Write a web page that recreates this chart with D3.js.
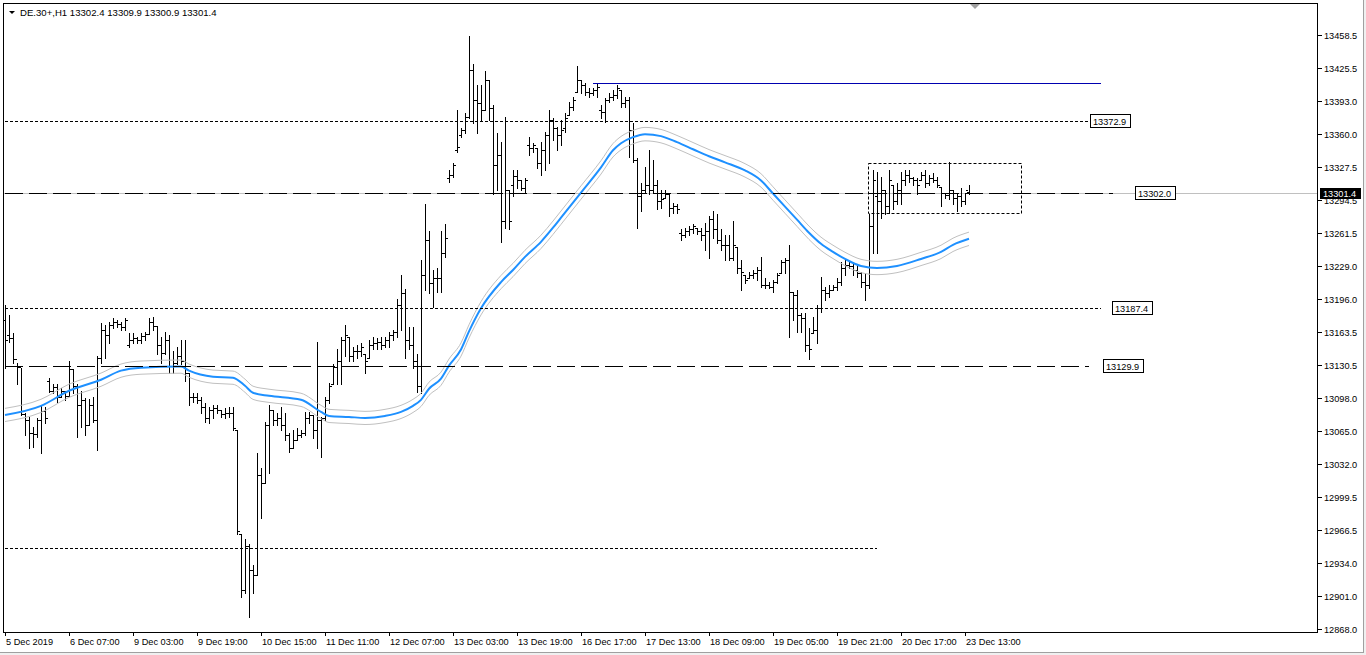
<!DOCTYPE html>
<html>
<head>
<meta charset="utf-8">
<title>DE.30+,H1</title>
<script src="https://cdn.jsdelivr.net/npm/d3@7"></script>
<style>
  html, body { margin: 0; padding: 0; background: #f0f0f0; }
  svg { display: block; font-family: "Liberation Sans", Arial, sans-serif; }
</style>
</head>
<body>
<svg id="chart" width="1366" height="655"></svg>
<script>

var symbol = "DE.30+,H1";
var lastQuote = [13302.4, 13309.9, 13300.9, 13301.4];

// hourly bars, oldest first (5 Dec 2019 .. 23 Dec 2019 14:00)
var opens = [13175,13160,13157,13137,13129,13082,13076,13063,13062,13076,13085,13115,13105,13109,13099,13105,13100,13127,13110,13091,
13096,13071,13091,13076,13138,13165,13160,13170,13173,13171,13168,13150,13155,13157,13155,13159,13161,13173,13169,13150,
13143,13155,13130,13133,13140,13135,13123,13099,13099,13096,13089,13078,13086,13088,13086,13082,13083,13083,13066,12963,
12907,12951,12927,12922,13021,13013,13071,13086,13076,13078,13071,13061,13048,13056,13061,13063,13078,13081,13066,13076,
13078,13096,13112,13129,13135,13155,13158,13140,13145,13145,13142,13138,13150,13152,13153,13150,13155,13160,13163,13190,
13202,13155,13150,13135,13110,13220,13255,13212,13217,13217,13242,13316,13319,13344,13359,13364,13377,13424,13394,13391,
13384,13414,13386,13329,13339,13274,13304,13309,13318,13314,13306,13349,13346,13346,13331,13344,13359,13374,13366,13359,
13366,13379,13387,13402,13414,13409,13402,13401,13404,13384,13382,13394,13397,13399,13404,13391,13394,13364,13334,13299,
13304,13309,13304,13309,13294,13297,13301,13287,13289,13262,13260,13264,13266,13267,13264,13260,13264,13276,13266,13255,
13250,13250,13237,13248,13227,13220,13217,13220,13222,13225,13210,13210,13208,13213,13222,13233,13235,13203,13200,13180,
13177,13150,13162,13165,13187,13205,13202,13205,13208,13213,13227,13230,13229,13225,13222,13213,13210,13269,13299,13294,
13304,13289,13309,13294,13304,13314,13319,13316,13314,13314,13319,13311,13316,13314,13307,13302,13300,13304,13297,13299,
13294,13302.4];
var highs = [13190,13180,13162,13133,13128,13083,13079,13069,13078,13091,13089,13118,13112,13112,13108,13105,13135,13127,13112,13105,
13098,13097,13099,13140,13172,13170,13173,13177,13175,13173,13177,13162,13162,13158,13162,13163,13177,13178,13169,13158,
13163,13160,13145,13148,13155,13155,13123,13103,13103,13099,13093,13089,13091,13091,13086,13088,13089,13089,13066,12963,
12958,12953,12932,13043,13028,13074,13091,13086,13083,13089,13083,13063,13066,13068,13066,13084,13084,13081,13153,13079,
13099,13113,13132,13147,13158,13170,13158,13148,13150,13152,13142,13155,13158,13157,13158,13158,13163,13165,13196,13220,
13206,13168,13168,13142,13235,13291,13264,13225,13227,13264,13271,13324,13331,13384,13366,13381,13458,13430,13409,13409,
13423,13414,13389,13361,13352,13377,13304,13324,13324,13314,13316,13357,13351,13346,13352,13362,13384,13376,13367,13374,
13381,13392,13397,13428,13414,13411,13406,13406,13411,13389,13396,13401,13404,13409,13404,13397,13397,13371,13336,13311,
13327,13344,13334,13314,13304,13304,13301,13292,13291,13266,13267,13269,13271,13267,13267,13272,13279,13284,13281,13266,
13260,13260,13274,13248,13235,13220,13223,13225,13228,13238,13217,13213,13215,13222,13235,13237,13250,13203,13205,13182,
13182,13167,13178,13190,13218,13208,13210,13210,13217,13233,13235,13233,13232,13230,13223,13222,13281,13324,13322,13317,
13304,13324,13309,13311,13322,13324,13324,13317,13316,13322,13324,13319,13321,13317,13307,13302,13332,13304,13302,13306,
13302,13309.9];
var lows = [13128,13153,13133,13112,13081,13061,13048,13049,13059,13043,13073,13104,13103,13094,13099,13096,13100,13103,13059,13069,
13061,13071,13074,13046,13133,13138,13152,13167,13168,13165,13165,13148,13152,13152,13152,13155,13161,13165,13142,13133,
13142,13123,13123,13132,13132,13115,13091,13094,13093,13083,13074,13073,13078,13083,13079,13078,13079,13066,12963,12900,
12904,12880,12904,12922,12979,13013,13023,13071,13071,13066,13056,13044,13048,13056,13059,13061,13073,13058,13048,13039,
13076,13093,13112,13112,13112,13140,13135,13135,13138,13140,13123,13138,13147,13147,13147,13148,13148,13155,13158,13165,
13138,13147,13128,13104,13103,13205,13202,13188,13203,13203,13238,13312,13317,13342,13357,13361,13376,13371,13361,13374,
13384,13374,13301,13304,13253,13267,13266,13299,13306,13304,13302,13339,13342,13326,13319,13324,13331,13354,13344,13349,
13362,13379,13384,13402,13401,13399,13397,13399,13397,13376,13372,13392,13394,13396,13387,13387,13337,13332,13267,13284,
13302,13301,13302,13286,13287,13297,13279,13282,13282,13255,13258,13260,13262,13261,13255,13245,13237,13257,13252,13245,
13235,13235,13235,13222,13205,13212,13217,13217,13215,13208,13207,13207,13203,13212,13222,13222,13158,13175,13163,13163,
13145,13137,13162,13152,13183,13195,13198,13205,13205,13210,13220,13227,13220,13218,13208,13195,13207,13242,13242,13277,
13281,13282,13286,13291,13291,13309,13312,13309,13301,13314,13307,13309,13312,13307,13289,13297,13296,13291,13284,13289,
13291,13300.9];
var closes = [13155,13157,13137,13129,13082,13076,13063,13062,13076,13085,13078,13105,13109,13099,13105,13100,13127,13110,13091,13096,
13071,13091,13076,13138,13165,13160,13170,13173,13171,13168,13175,13155,13157,13155,13159,13161,13173,13169,13150,13143,
13155,13130,13133,13140,13135,13123,13099,13099,13096,13089,13078,13086,13088,13086,13082,13083,13083,13068,12966,12907,
12951,12927,12922,13021,13013,13071,13086,13076,13078,13071,13061,13048,13056,13061,13063,13078,13081,13066,13076,13078,
13096,13110,13129,13135,13155,13160,13140,13145,13145,13148,13135,13150,13152,13153,13150,13155,13160,13163,13190,13202,
13155,13150,13135,13110,13220,13255,13212,13217,13217,13242,13257,13319,13329,13347,13364,13377,13424,13394,13391,13384,
13414,13386,13329,13339,13274,13304,13274,13318,13314,13306,13314,13346,13349,13331,13344,13359,13374,13366,13359,13364,
13376,13387,13394,13414,13409,13402,13401,13404,13407,13382,13394,13397,13399,13406,13391,13394,13364,13334,13299,13304,
13309,13304,13309,13294,13296,13301,13287,13289,13286,13260,13264,13266,13269,13264,13260,13264,13276,13266,13255,13250,
13250,13237,13250,13227,13223,13215,13220,13222,13225,13210,13210,13208,13213,13220,13233,13235,13203,13200,13180,13177,
13150,13147,13165,13187,13205,13202,13205,13208,13213,13227,13230,13229,13225,13222,13213,13210,13269,13314,13294,13304,
13289,13314,13294,13304,13314,13319,13316,13314,13309,13319,13311,13316,13314,13309,13302,13300,13304,13297,13299,13294,
13304,13301.4];

// moving average (bar index, price)
var maIndex = [0,9,16,24,29,34,44,46,52,57,60,62,66,74,79,81,86,90,95,99,
102,104,106,109,111,114,116,119,124,127,130,134,137,139,144,149,152,154,157,160,
164,168,172,176,180,185,189,192,195,198,201,204,207,210,214,218,223,229,234,237,241];
var maValue = [13081,13090,13105,13116,13125,13128,13129,13125,13119,13118,13110,13103,13100,13096,13084,13080,13079,13078,13080,13084,
13090,13096,13107,13117,13130,13146,13164,13187,13213,13225,13238,13253,13267,13277,13302,13327,13344,13351,13357,13360,
13358,13352,13345,13338,13332,13324,13314,13301,13288,13275,13262,13251,13243,13236,13229,13227,13229,13236,13243,13250,13256];
var envelopePct = 0.05;

var priceTicks = [13458.5,13425.5,13393.0,13360.0,13327.5,13294.5,13261.5,13229.0,13196.0,13163.5,
13130.5,13098.0,13065.0,13032.0,12999.5,12966.5,12934.0,12901.0,12868.0];
var timeLabels = ["5 Dec 2019","6 Dec 07:00","9 Dec 03:00","9 Dec 19:00","10 Dec 15:00","11 Dec 11:00",
"12 Dec 07:00","13 Dec 03:00","13 Dec 19:00","16 Dec 17:00","17 Dec 13:00","18 Dec 09:00",
"19 Dec 05:00","19 Dec 21:00","20 Dec 17:00","23 Dec 13:00"];
var barsPerLabel = 16;

// drawn objects
var dottedLevels = [13372.9, 13187.4, 12948.4];
var dashedLevels = [13302.0, 13129.9];
var resistance = 13410.8;
var rangeBox = [13331.3, 13281.6];

var svg = d3.select("#chart");

var x = d3.scaleLinear().domain([0, 328]).range([5, 5 + 4 * 328]);
var y = d3.scaleLinear().domain([12868.0, 13458.5]).range([629.3, 35]);
function X(i) { return Math.round(x(i)); }
function Y(v) { return Math.round(y(v)); }

// window
svg.append("rect").attr("width", 1363).attr("height", 652).attr("fill", "#fff");
svg.append("line").attr("x1", 1363.5).attr("x2", 1363.5).attr("y1", 0).attr("y2", 653).attr("stroke", "#a0a0a0");
svg.append("line").attr("x1", 0).attr("x2", 1364).attr("y1", 652.5).attr("y2", 652.5).attr("stroke", "#a0a0a0");

svg.append("defs").append("clipPath").attr("id", "plot")
	.append("rect").attr("x", 4).attr("y", 4).attr("width", 1313).attr("height", 628);

var g = svg.append("g").attr("clip-path", "url(#plot)");

// current price line
g.append("line")
	.attr("x1", 4).attr("x2", 1318)
	.attr("y1", Y(lastQuote[3]) + 0.5).attr("y2", Y(lastQuote[3]) + 0.5)
	.attr("stroke", "#c0c0c0");

// bars
var idx = d3.range(opens.length);
var bars = g.append("g").attr("fill", "#000");
bars.selectAll("rect.hl").data(idx).enter().append("rect")
	.attr("x", function(i){ return X(i); })
	.attr("y", function(i){ return Y(highs[i]); })
	.attr("width", 1)
	.attr("height", function(i){ return Y(lows[i]) - Y(highs[i]) + 1; });
bars.selectAll("rect.o").data(idx).enter().append("rect")
	.attr("x", function(i){ return X(i) - 2; })
	.attr("y", function(i){ return Y(opens[i]); })
	.attr("width", 2).attr("height", 1);
bars.selectAll("rect.c").data(idx).enter().append("rect")
	.attr("x", function(i){ return X(i) + 1; })
	.attr("y", function(i){ return Y(closes[i]); })
	.attr("width", 2).attr("height", 1);

// moving average + envelopes
var ma = maIndex.map(function(d, k){ return [d, maValue[k]]; });
function maLine(f) {
	return d3.line()
		.x(function(d){ return x(d[0]); })
		.y(function(d){ return y(d[1] * f); })
		.curve(d3.curveMonotoneX)(ma);
}
g.append("path").attr("d", maLine(1 + envelopePct / 100)).attr("fill", "none").attr("stroke", "#c0c0c0");
g.append("path").attr("d", maLine(1 - envelopePct / 100)).attr("fill", "none").attr("stroke", "#c0c0c0");
g.append("path").attr("d", maLine(1)).attr("fill", "none").attr("stroke", "#1e90ff").attr("stroke-width", 2);

// horizontal levels
var levelEnd = { 13372.9: 272, 13187.4: 274, 12948.4: 218, 13302.0: 277, 13129.9: 271 };
dottedLevels.forEach(function(v){
	g.append("line").attr("x1", 5).attr("x2", X(levelEnd[v]))
		.attr("y1", Y(v) + 0.5).attr("y2", Y(v) + 0.5)
		.attr("stroke", "#000").attr("stroke-dasharray", "3,2");
});
dashedLevels.forEach(function(v){
	g.append("line").attr("x1", 5).attr("x2", X(levelEnd[v]))
		.attr("y1", Y(v) + 0.5).attr("y2", Y(v) + 0.5)
		.attr("stroke", "#000").attr("stroke-dasharray", "18,6");
});
g.append("line").attr("x1", X(147)).attr("x2", X(274))
	.attr("y1", Y(resistance) + 0.5).attr("y2", Y(resistance) + 0.5)
	.attr("stroke", "#0000b0");
g.append("rect")
	.attr("x", Math.round(x(215.7)) + 0.5).attr("y", Y(rangeBox[0]) + 0.5)
	.attr("width", Math.round(x(254)) - Math.round(x(215.7)))
	.attr("height", Y(rangeBox[1]) - Y(rangeBox[0]))
	.attr("fill", "none").attr("stroke", "#000").attr("stroke-dasharray", "3,2");

// price labels on the levels
var labelAt = [[13372.9, 1090], [13302.0, 1135], [13187.4, 1112], [13129.9, 1103]];
labelAt.forEach(function(d){
	var yy = Y(d[0]);
	g.append("rect").attr("x", d[1] + 0.5).attr("y", yy - 6.5)
		.attr("width", 40).attr("height", 13).attr("fill", "#fff").attr("stroke", "#000");
	g.append("text").attr("x", d[1] + 3).attr("y", yy + 4)
		.attr("font-size", "9.2px").attr("fill", "#000").text(d[0].toFixed(1));
});

// frame
svg.append("rect").attr("x", 3.5).attr("y", 3.5).attr("width", 1314).attr("height", 629)
	.attr("fill", "none").attr("stroke", "#000");

// price axis
var pa = svg.append("g");
priceTicks.forEach(function(v){
	var yy = Y(v) + 0.5;
	pa.append("line").attr("x1", 1318).attr("x2", 1322).attr("y1", yy).attr("y2", yy).attr("stroke", "#000");
	pa.append("text").attr("x", 1324).attr("y", yy + 3.5).attr("font-size", "9.2px").attr("fill", "#000").text(v.toFixed(1));
});
var cy = Y(lastQuote[3]);
pa.append("rect").attr("x", 1320).attr("y", cy - 5).attr("width", 41).attr("height", 11).attr("fill", "#000");
pa.append("text").attr("x", 1323).attr("y", cy + 4).attr("font-size", "9.2px").attr("fill", "#fff").text(lastQuote[3].toFixed(1));

// time axis
var ta = svg.append("g");
timeLabels.forEach(function(t, k){
	var xx = X(k * barsPerLabel) + 0.5;
	ta.append("line").attr("x1", xx).attr("x2", xx).attr("y1", 632).attr("y2", 636).attr("stroke", "#000");
	ta.append("text").attr("x", xx + 0.5).attr("y", 645).attr("font-size", "9.2px").attr("fill", "#000").text(t);
});

// title
svg.append("path").attr("d", "M9,11 L15,11 L12,14 Z").attr("fill", "#000");
svg.append("text").attr("x", 20).attr("y", 16).attr("font-size", "9.6px").attr("fill", "#000")
	.text(symbol + "  " + lastQuote.map(function(v){ return v.toFixed(1); }).join(" "));

// chart shift marker
svg.append("path").attr("d", "M970,4 L980,4 L975,9 Z").attr("fill", "#a0a0a0");

</script>
</body>
</html>
